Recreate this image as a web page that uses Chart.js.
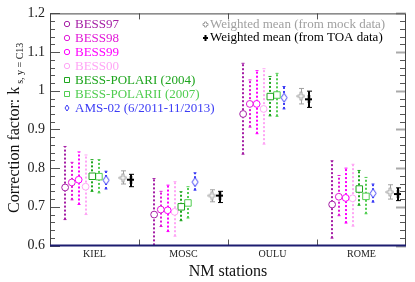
<!DOCTYPE html>
<html>
<head>
<meta charset="utf-8">
<script src="https://cdn.jsdelivr.net/npm/chart.js@4.4.0/dist/chart.umd.min.js"></script>
<style>
  html, body { margin: 0; padding: 0; background: #fff; }
  #wrap { width: 415px; height: 282px; }
</style>
</head>
<body>
<div id="wrap"><canvas id="c" width="415" height="282"></canvas></div>
<script>
// stations on the x axis
const stations = ['KIEL', 'MOSC', 'OULU', 'ROME'];

// correction factor per station, with lower / upper ends of the error bar
const bess97 = [0.750, 0.680, 0.940, 0.706];
const bess97Lo = [0.667, 0.590, 0.836, 0.619];
const bess97Hi = [0.856, 0.773, 1.071, 0.819];

const bess98 = [0.763, 0.693, 0.966, 0.726];
const bess98Lo = [0.718, 0.649, 0.906, 0.677];
const bess98Hi = [0.815, 0.740, 1.028, 0.781];

const bess99 = [0.770, 0.691, 0.966, 0.723];
const bess99Lo = [0.706, 0.636, 0.889, 0.658];
const bess99Hi = [0.842, 0.756, 1.052, 0.800];

const bess00 = [0.752, 0.687, 0.953, 0.722];
const bess00Lo = [0.680, 0.624, 0.862, 0.650];
const bess00Hi = [0.834, 0.765, 1.057, 0.810];

const polarI = [0.779, 0.700, 0.985, 0.746];
const polarILo = [0.740, 0.664, 0.935, 0.704];
const polarIHi = [0.822, 0.739, 1.037, 0.794];

const polarII = [0.778, 0.710, 0.989, 0.727];
const polarIILo = [0.736, 0.671, 0.934, 0.682];
const polarIIHi = [0.822, 0.752, 1.045, 0.776];

const ams02 = [0.769, 0.764, 0.982, 0.735];
const ams02Lo = [0.746, 0.743, 0.953, 0.712];
const ams02Hi = [0.792, 0.788, 1.011, 0.759];

const mockMean = [0.775, 0.729, 0.986, 0.738];
const mockMeanLo = [0.759, 0.713, 0.966, 0.720];
const mockMeanHi = [0.793, 0.744, 1.006, 0.757];

const toaMean = [0.770, 0.729, 0.978, 0.733];
const toaMeanLo = [0.752, 0.711, 0.957, 0.716];
const toaMeanHi = [0.784, 0.740, 0.999, 0.749];

const yTicks = [0.6, 0.7, 0.8, 0.9, 1.0, 1.1, 1.2];

const SERIF = '"Liberation Serif", "DejaVu Serif", serif';

// little canvases used as point styles
function makeImg(w, h, draw) {
    const c = document.createElement('canvas');
    c.width = w; c.height = h;
    draw(c.getContext('2d'), w, h);
    return c;
}
function diamond(w, h) {
    return makeImg(w + 2, h + 2, function (g) {
        g.beginPath();
        g.moveTo(1 + w / 2, 1); g.lineTo(1 + w, 1 + h / 2);
        g.lineTo(1 + w / 2, 1 + h); g.lineTo(1, 1 + h / 2);
        g.closePath();
        g.fillStyle = '#fff'; g.fill();
        g.strokeStyle = 'rgb(60,60,245)'; g.lineWidth = 1; g.stroke();
    });
}
function hollowPlus(w, h, a) {
    return makeImg(w + 2, h + 2, function (g) {
        const cx = 1 + w / 2, cy = 1 + h / 2;
        g.beginPath();
        g.moveTo(cx - a / 2, 1); g.lineTo(cx + a / 2, 1); g.lineTo(cx + a / 2, cy - a / 2);
        g.lineTo(1 + w, cy - a / 2); g.lineTo(1 + w, cy + a / 2); g.lineTo(cx + a / 2, cy + a / 2);
        g.lineTo(cx + a / 2, 1 + h); g.lineTo(cx - a / 2, 1 + h); g.lineTo(cx - a / 2, cy + a / 2);
        g.lineTo(1, cy + a / 2); g.lineTo(1, cy - a / 2); g.lineTo(cx - a / 2, cy - a / 2);
        g.closePath();
        g.fillStyle = '#fff'; g.fill();
        g.strokeStyle = '#a0a0a0'; g.lineWidth = 1; g.stroke();
    });
}
function solidPlus(w, h, a) {
    return makeImg(w, h, function (g) {
        g.fillStyle = '#000';
        g.fillRect(w / 2 - a / 2, 0, a, h);
        g.fillRect(0, h / 2 - a / 2, w, a);
    });
}

const series = [
    { label: 'BESS97', v: bess97, lo: bess97Lo, hi: bess97Hi, color: 'rgb(165,30,165)', style: 'circle', off: -0.33 },
    { label: 'BESS98', v: bess98, lo: bess98Lo, hi: bess98Hi, color: 'rgb(225,25,215)', style: 'circle', off: -0.255 },
    { label: 'BESS99', v: bess99, lo: bess99Lo, hi: bess99Hi, color: 'rgb(255,0,255)', style: 'circle', off: -0.178 },
    { label: 'BESS00', v: bess00, lo: bess00Lo, hi: bess00Hi, color: 'rgb(255,165,245)', style: 'circle', off: -0.10 },
    { label: 'BESS-POLARI (2004)', v: polarI, lo: polarILo, hi: polarIHi, color: 'rgb(30,165,30)', style: 'rect', off: -0.025 },
    { label: 'BESS-POLARII (2007)', v: polarII, lo: polarIILo, hi: polarIIHi, color: 'rgb(80,205,80)', style: 'rect', off: 0.05 },
    { label: 'AMS-02 (6/2011-11/2013)', v: ams02, lo: ams02Lo, hi: ams02Hi, color: 'rgb(60,60,245)', style: diamond(6, 9), legendStyle: diamond(4, 6), off: 0.13 },
    { label: 'Weighted mean (from mock data)', v: mockMean, lo: mockMeanLo, hi: mockMeanHi, color: '#a0a0a0', style: hollowPlus(7, 8, 2), legendStyle: hollowPlus(5, 5, 2), off: 0.32, mean: true },
    { label: 'Weighted mean (from TOA data)', v: toaMean, lo: toaMeanLo, hi: toaMeanHi, color: '#000000', style: solidPlus(7, 8, 2), legendStyle: solidPlus(5, 6, 2), off: 0.41, mean: true }
];

const datasets = series.map(function (s) {
    return {
        label: s.label,
        data: s.v.map(function (v, i) { return { x: i + 0.5 + s.off, y: v }; }),
        pointStyle: s.style,
        pointRadius: s.style === 'rect' ? 4.6 : 3.4,
        borderColor: s.color,
        backgroundColor: '#fff',
        pointBorderWidth: 1,
        showLine: false
    };
});

const errorBars = {
    id: 'errorBars',
    beforeDatasetsDraw(chart) {
        const ctx = chart.ctx, ys = chart.scales.y, area = chart.chartArea;
        ctx.save();
        ctx.beginPath();
        ctx.rect(area.left, area.top, area.right - area.left, area.bottom - area.top);
        ctx.clip();
        series.forEach(function (s, di) {
            const meta = chart.getDatasetMeta(di);
            meta.data.forEach(function (pt, i) {
                const x = Math.round(pt.x);
                const yLo = ys.getPixelForValue(s.lo[i]);
                const yHi = ys.getPixelForValue(s.hi[i]);
                ctx.strokeStyle = s.color;
                if (s.mean) {
                    const lw = s.color === '#000000' ? 2 : 1;
                    const xx = lw === 2 ? x : x + 0.5;
                    ctx.setLineDash([]);
                    ctx.lineWidth = lw;
                    ctx.beginPath();
                    ctx.moveTo(xx, yLo); ctx.lineTo(xx, yHi);
                    ctx.stroke();
                    ctx.lineWidth = 1;
                    ctx.beginPath();
                    ctx.moveTo(x - 2, yLo); ctx.lineTo(x + 3, yLo);
                    ctx.moveTo(x - 2, yHi); ctx.lineTo(x + 3, yHi);
                    ctx.stroke();
                } else {
                    ctx.lineWidth = 2;
                    ctx.setLineDash([2, 2]);
                    ctx.beginPath();
                    ctx.moveTo(x, yLo); ctx.lineTo(x, yHi);
                    ctx.stroke();
                    ctx.setLineDash([]);
                    ctx.lineWidth = 1;
                    ctx.beginPath();
                    ctx.moveTo(x - 1.5, yLo); ctx.lineTo(x + 1.5, yLo);
                    ctx.moveTo(x - 1.5, yHi); ctx.lineTo(x + 1.5, yHi);
                    ctx.stroke();
                }
            });
        });
        ctx.restore();
    }
};

const frame = {
    id: 'frame',
    afterDraw(chart) {
        const ctx = chart.ctx, a = chart.chartArea, ys = chart.scales.y, xs = chart.scales.x;
        ctx.save();
        // ticks on the value axes
        for (let k = 0; k <= 30; k++) {
            const v = 0.6 + k * 0.02;
            const y = Math.round(ys.getPixelForValue(v)) + 0.5;
            const major = k % 5 === 0;
            ctx.lineWidth = 1;
            ctx.strokeStyle = '#555';
            ctx.beginPath();
            ctx.moveTo(a.left, y); ctx.lineTo(a.left + (major ? 10 : 5), y);
            ctx.stroke();
            ctx.strokeStyle = major ? '#aaa' : '#555';
            ctx.lineWidth = major ? 2 : 1;
            ctx.beginPath();
            ctx.moveTo(a.right, y); ctx.lineTo(a.right - (major ? 10 : 6), y);
            ctx.stroke();
        }
        // category separators on top and bottom
        ctx.strokeStyle = '#555';
        ctx.lineWidth = 1;
        for (let i = 1; i < stations.length; i++) {
            const x = Math.round(xs.getPixelForValue(i)) + 0.5;
            ctx.beginPath();
            ctx.moveTo(x, a.top); ctx.lineTo(x, a.top + 6);
            ctx.moveTo(x, a.bottom); ctx.lineTo(x, a.bottom - 6);
            ctx.stroke();
        }
        // box
        ctx.strokeStyle = '#444';
        ctx.lineWidth = 1;
        ctx.beginPath();
        ctx.moveTo(a.left + 0.5, a.bottom); ctx.lineTo(a.left + 0.5, a.top + 0.5);
        ctx.lineTo(a.right - 0.5, a.top + 0.5); ctx.lineTo(a.right - 0.5, a.bottom);
        ctx.stroke();
        ctx.strokeStyle = '#1c1c70';
        ctx.lineWidth = 2;
        ctx.beginPath();
        ctx.moveTo(a.left, a.bottom); ctx.lineTo(a.right, a.bottom);
        ctx.stroke();

        // axis titles
        ctx.fillStyle = '#111';
        ctx.font = '16px ' + SERIF;
        ctx.textAlign = 'center';
        ctx.textBaseline = 'middle';
        ctx.fillText('NM stations', (a.left + a.right) / 2, 272);

        ctx.save();
        ctx.translate(19, 213);
        ctx.rotate(-Math.PI / 2);
        ctx.textAlign = 'left';
        ctx.textBaseline = 'alphabetic';
        ctx.font = '16px ' + SERIF;
        const main = 'Correction factor: k';
        ctx.fillText(main, 0, 0);
        const w = ctx.measureText(main).width;
        ctx.font = '10px ' + SERIF;
        ctx.fillText('s, y = C13', w + 3, 4);
        ctx.restore();

        // legends
        ctx.font = '13px ' + SERIF;
        ctx.textAlign = 'left';
        ctx.textBaseline = 'middle';
        series.forEach(function (s, i) {
            let mx, tx, y;
            if (i < 7) { mx = 67; tx = 75; y = 24 + i * 14; }
            else { mx = 205; tx = 210; y = 24 + (i - 7) * 13.5; }
            const st = s.legendStyle || s.style;
            if (typeof st !== 'string') {
                ctx.drawImage(st, Math.round(mx - st.width / 2), Math.round(y - st.height / 2));
            } else {
                ctx.strokeStyle = s.color;
                ctx.fillStyle = '#fff';
                ctx.lineWidth = 1;
                ctx.beginPath();
                if (st === 'circle') ctx.arc(mx, y, 2.7, 0, Math.PI * 2);
                else ctx.rect(mx - 2.5, y - 2.5, 5, 5);
                ctx.fill();
                ctx.stroke();
            }
            ctx.fillStyle = s.color;
            ctx.fillText(s.label, tx, y + 0.5);
        });
        ctx.restore();
    }
};

new Chart(document.getElementById('c'), {
    type: 'scatter',
    data: { datasets: datasets },
    options: {
        responsive: false,
        animation: false,
        layout: { padding: { top: 10, right: 9, left: 0, bottom: 0 } },
        plugins: { legend: { display: false }, tooltip: { enabled: false } },
        scales: {
            x: {
                type: 'linear',
                min: 0,
                max: stations.length,
                grid: { display: false, drawTicks: false, tickLength: 0 },
                border: { display: false },
                afterBuildTicks: function (scale) {
                    scale.ticks = stations.map(function (s, i) { return { value: i + 0.5 }; });
                },
                afterFit: function (scale) { scale.height = 36.5; },
                ticks: {
                    autoSkip: false,
                    maxRotation: 0,
                    padding: 3,
                    color: '#222',
                    font: { family: SERIF, size: 10 },
                    callback: function (value) { return stations[Math.floor(value)]; }
                }
            },
            y: {
                min: 0.6,
                max: 1.2,
                grid: { display: false, drawTicks: false, tickLength: 0 },
                border: { display: false },
                afterBuildTicks: function (scale) {
                    scale.ticks = yTicks.map(function (v) { return { value: v }; });
                },
                afterFit: function (scale) { scale.width = 50; },
                ticks: {
                    padding: 5,
                    color: '#222',
                    font: { family: SERIF, size: 14 },
                    callback: function (value) { return String(Math.round(value * 10) / 10); }
                }
            }
        }
    },
    plugins: [errorBars, frame]
});
</script>
</body>
</html>
